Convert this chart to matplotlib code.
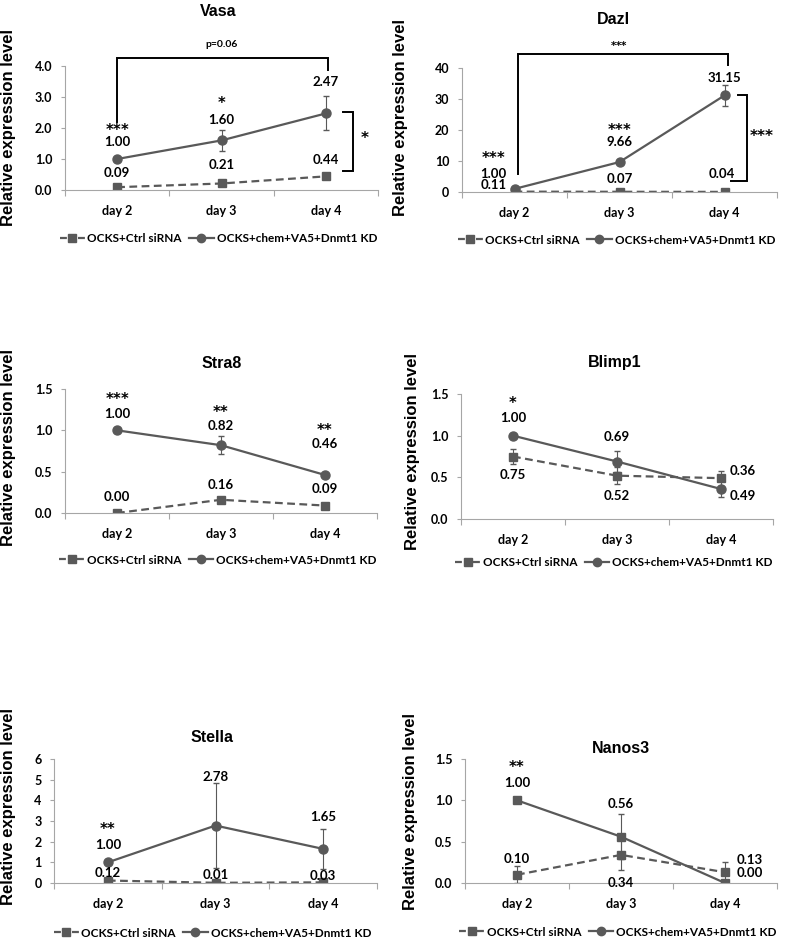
import numpy as np
import matplotlib
matplotlib.use('Agg')
import matplotlib.pyplot as plt
from matplotlib.lines import Line2D

days = ['day 2', 'day 3', 'day 4']
legend_labels = ['OCKS+Ctrl siRNA', 'OCKS+chem+VA5+Dnmt1 KD']

# values
vasa_ctrl = [0.09, 0.21, 0.44]
vasa_kd = [1.00, 1.60, 2.47]
vasa_ctrl_err = [0.02, 0.02, 0.03]
vasa_kd_err = [0.0, 0.33, 0.55]
vasa_stars = ['***', '*', '']

dazl_ctrl = [0.11, 0.07, 0.04]
dazl_kd = [1.00, 9.66, 31.15]
dazl_ctrl_err = [0.0, 0.0, 0.0]
dazl_kd_err = [0.5, 0.3, 3.3]
dazl_stars = ['***', '***', '']

stra8_ctrl = [0.00, 0.16, 0.09]
stra8_kd = [1.00, 0.82, 0.46]
stra8_ctrl_err = [0.0, 0.01, 0.01]
stra8_kd_err = [0.01, 0.11, 0.02]
stra8_stars = ['***', '**', '**']

blimp1_ctrl = [0.75, 0.52, 0.49]
blimp1_kd = [1.00, 0.69, 0.36]
blimp1_ctrl_err = [0.09, 0.10, 0.09]
blimp1_kd_err = [0.01, 0.13, 0.10]
blimp1_stars = ['*', '', '']

stella_ctrl = [0.12, 0.01, 0.03]
stella_kd = [1.00, 2.78, 1.65]
stella_ctrl_err = [0.02, 0.0, 0.0]
stella_kd_err = [0.0, 2.05, 0.97]
stella_stars = ['**', '', '']

nanos3_ctrl = [0.10, 0.34, 0.13]
nanos3_kd = [1.00, 0.56, 0.00]
nanos3_ctrl_err = [0.10, 0.18, 0.13]
nanos3_kd_err = [0.0, 0.27, 0.0]
nanos3_stars = ['**', '', '']

W, H = 787, 938
fig = plt.figure(figsize=(W / 100, H / 100), dpi=100)
plt.rcParams['mathtext.fontset'] = 'dejavusans'

GRAY = '#595959'
SPINE = '#a6a6a6'
NUMF = 'Lato'
ARIAL = 'Liberation Sans'


def rect(l, t, r, b):
    return [l / W, 1 - b / H, (r - l) / W, (b - t) / H]


def star(ax, x, y, s, size=10):
    # mathtext so the box is tight around the asterisks; {*} avoids operator spacing
    ax.text(x, y, r'$\mathbf{' + ''.join('{*}' for c in s) + '}$', ha='center',
            va='center', fontsize=size, clip_on=False)


def panel(title, box, ymax, ystep, yfmt, ctrl, kd, ctrl_err, kd_err, stars,
          ctrl_pos, kd_pos, star_pos, title_xy, ylab_xy, leg_y, kd_marker='o'):
    ax = fig.add_axes(rect(*box))
    x = np.arange(len(days))
    ax.errorbar(x, ctrl, yerr=ctrl_err, color=GRAY, ls='--', lw=1.6,
                marker='s', ms=6, elinewidth=0.8, capsize=2, dashes=(3.5, 2))
    ax.errorbar(x, kd, yerr=kd_err, color=GRAY, ls='-', lw=1.6,
                marker=kd_marker, ms=6.5 if kd_marker == 'o' else 6,
                elinewidth=0.8, capsize=2)
    ax.set_xlim(-0.5, 2.5)
    ax.set_ylim(0, ymax)
    yt = np.arange(0, ymax + ystep / 2, ystep)
    ax.set_yticks(yt)
    ax.set_yticklabels([yfmt.format(v) for v in yt],
                       fontfamily=NUMF, fontweight='bold', fontsize=9)
    ax.set_xticks(x)
    ax.set_xticklabels(days, fontfamily=NUMF, fontweight='bold', fontsize=9)
    ax.set_xticks([-0.5, 0.5, 1.5, 2.5], minor=True)
    ax.tick_params(axis='x', which='major', length=0, pad=11)
    ax.tick_params(axis='x', which='minor', length=4, color=SPINE, width=0.8)
    ax.tick_params(axis='y', length=3, color=SPINE, width=0.8, pad=6)
    for s in ['top', 'right']:
        ax.spines[s].set_visible(False)
    for s in ['left', 'bottom']:
        ax.spines[s].set_color(SPINE)
        ax.spines[s].set_linewidth(0.8)

    for i in range(3):
        ax.text(ctrl_pos[i][0], ctrl_pos[i][1], '%.2f' % ctrl[i], ha=ctrl_pos[i][2],
                va='center', fontfamily=NUMF, fontweight='bold', fontsize=9.5,
                clip_on=False)
        ax.text(kd_pos[i][0], kd_pos[i][1], '%.2f' % kd[i], ha=kd_pos[i][2],
                va='center', fontfamily=NUMF, fontweight='bold', fontsize=9.5,
                clip_on=False)
        if stars[i]:
            star(ax, star_pos[i][0], star_pos[i][1], stars[i], 10.5)

    fig.text(title_xy[0] / W, 1 - title_xy[1] / H, title, ha='center', va='center',
             fontfamily=ARIAL, fontweight='bold', fontsize=11.5)
    fig.text(ylab_xy[0] / W, 1 - ylab_xy[1] / H, 'Relative expression level',
             rotation=90, ha='center', va='center', fontfamily=ARIAL,
             fontweight='bold', fontsize=12)

    handles = [Line2D([], [], color=GRAY, lw=1.6, marker='s', ms=6,
                      ls=(0, (3.1, 5.0))),
               Line2D([], [], color=GRAY, ls='-', lw=1.6, marker='o', ms=6)]
    cx = (box[0] + box[2]) / 2 - 3
    ax.legend(handles, legend_labels, loc='center', ncol=2, frameon=False,
              bbox_to_anchor=(cx / W, 1 - leg_y / H), bbox_transform=fig.transFigure,
              prop={'family': NUMF, 'weight': 'bold', 'size': 8.5},
              handlelength=2.1, handletextpad=0.25, columnspacing=0.6,
              borderpad=0.1)
    return ax


def bracket(ax, pts):
    xs, ys = zip(*pts)
    ax.plot(xs, ys, color='black', lw=1.4, clip_on=False, solid_joinstyle='miter')


# Vasa
ax = panel('Vasa', (65, 66, 378, 190), 4.0, 1.0, '{:.1f}',
           vasa_ctrl, vasa_kd, vasa_ctrl_err, vasa_kd_err, vasa_stars,
           [(0, 0.54, 'center'), (1, 0.80, 'center'), (2, 0.97, 'center')],
           [(0, 1.55, 'center'), (1, 2.27, 'center'), (2, 3.49, 'center')],
           [(0, 2.0), (1, 2.86), None],
           (218, 12), (9, 128), 239)
bracket(ax, [(0, 2.2), (0, 4.27), (2.02, 4.27), (2.02, 3.88)])
ax.text(1.0, 4.7, 'p=0.06', ha='center', va='center', fontfamily=NUMF,
        fontweight='bold', fontsize=7.5, clip_on=False)
bracket(ax, [(2.16, 2.52), (2.26, 2.52), (2.26, 0.61), (2.16, 0.61)])
star(ax, 2.37, 1.72, '*', 11)

# Dazl
ax = panel('Dazl', (462, 68, 777, 192), 40, 10, '{:.0f}',
           dazl_ctrl, dazl_kd, dazl_ctrl_err, dazl_kd_err, dazl_stars,
           [(-0.2, 2.2, 'center'), (1, 4.1, 'center'), (1.97, 5.7, 'center')],
           [(-0.2, 5.9, 'center'), (1, 16.0, 'center'), (2, 36.9, 'center')],
           [(-0.2, 11.3), (1, 20.5), None],
           (613, 19), (400, 118), 240)
bracket(ax, [(0.03, 5.7), (0.03, 44.6), (2.03, 44.6), (2.03, 40.9)])
star(ax, 1.0, 47.8, '***', 7.5)
bracket(ax, [(2.13, 31.35), (2.21, 31.35), (2.21, 3.6), (2.06, 3.6)])
star(ax, 2.36, 18.7, '***', 11)

# Stra8
panel('Stra8', (65, 389, 377, 513), 1.5, 0.5, '{:.1f}',
      stra8_ctrl, stra8_kd, stra8_ctrl_err, stra8_kd_err, stra8_stars,
      [(0, 0.19, 'center'), (1, 0.34, 'center'), (2, 0.29, 'center')],
      [(0, 1.20, 'center'), (1, 1.05, 'center'), (2, 0.83, 'center')],
      [(0, 1.40), (1, 1.24), (2, 1.02)],
      (222, 363), (9, 447), 560)

# Blimp1
panel('Blimp1', (461, 394, 773, 519), 1.5, 0.5, '{:.1f}',
      blimp1_ctrl, blimp1_kd, blimp1_ctrl_err, blimp1_kd_err, blimp1_stars,
      [(0, 0.53, 'center'), (1, 0.28, 'center'), (2.08, 0.28, 'left')],
      [(0, 1.21, 'center'), (1, 0.99, 'center'), (2.08, 0.58, 'left')],
      [(0, 1.41), None, None],
      (615, 363), (413, 452), 563)

# Stella
panel('Stella', (54, 759, 377, 883), 6, 1, '{:.0f}',
      stella_ctrl, stella_kd, stella_ctrl_err, stella_kd_err, stella_stars,
      [(0, 0.48, 'center'), (1, 0.41, 'center'), (2, 0.36, 'center')],
      [(0, 1.83, 'center'), (1, 5.12, 'center'), (2, 3.2, 'center')],
      [(0, 2.7), None, None],
      (212, 738), (9, 806), 933)

# Nanos3
panel('Nanos3', (465, 759, 777, 883), 1.5, 0.5, '{:.1f}',
      nanos3_ctrl, nanos3_kd, nanos3_ctrl_err, nanos3_kd_err, nanos3_stars,
      [(0, 0.29, 'center'), (1, 0.0, 'center'), (2.11, 0.28, 'left')],
      [(0, 1.21, 'center'), (1, 0.96, 'center'), (2.11, 0.12, 'left')],
      [(0, 1.42), None, None],
      (621, 748), (410, 812), 932, kd_marker='s')

fig.savefig('out.png', dpi=100)
